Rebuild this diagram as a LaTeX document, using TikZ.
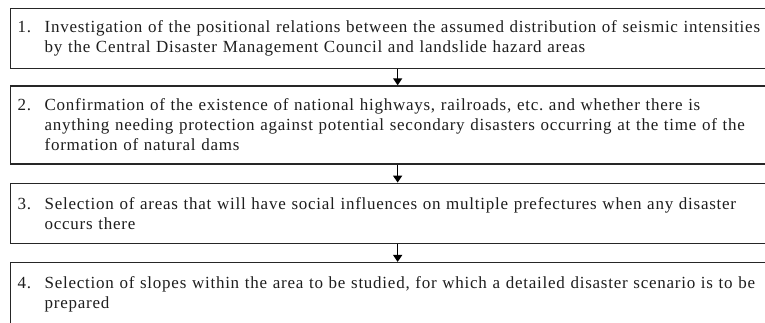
\documentclass[tikz,border=0pt]{standalone}
\usepackage{fontspec}
\setmainfont{Liberation Serif}[LetterSpace=4.4]
\usepackage{tikz}
\usetikzlibrary{arrows.meta,positioning}
\definecolor{boxline}{HTML}{262626}
\definecolor{boxtext}{HTML}{1E1E1E}
\newcommand{\stepno}[1]{\makebox[27pt][l]{#1}}
\newcommand{\stepin}{\hspace*{27pt}}

\begin{document}
\begin{tikzpicture}[
  x=1pt, y=-1pt,
  stepbox/.style = {draw=boxline, line width=1.3pt, fill=white,
                    text width=760pt, inner xsep=7pt, inner ysep=0pt,
                    align=left, text=boxtext,
                    font=\fontsize{17}{20}\selectfont},
  arr/.style     = {-{Triangle[length=7pt,width=9pt]},
                    line width=1.4pt, draw=black},
]
\useasboundingbox (0,0) rectangle (765,322);
\node[stepbox, minimum height=60pt, anchor=north west] (inv) at (10,8)
    {\stepno{1.}Investigation of the positional relations between the assumed distribution of seismic intensities\\
     \stepin by the Central Disaster Management Council and landslide hazard areas};
\node[stepbox, minimum height=78pt, below=16pt of inv] (conf)
    {\stepno{2.}Confirmation of the existence of national highways, railroads, etc.\ and whether there is\\
     \stepin anything needing protection against potential secondary disasters occurring at the time of the\\
     \stepin formation of natural dams};
\node[stepbox, minimum height=60pt, below=18pt of conf] (sel)
    {\stepno{3.}Selection of areas that will have social influences on multiple prefectures when any disaster\\
     \stepin occurs there};
\node[stepbox, minimum height=80pt, below=18pt of sel] (slope)
    {\stepno{4.}Selection of slopes within the area to be studied, for which a detailed disaster scenario is to be\\
     \stepin prepared\\ \mbox{}};
\draw[arr] (inv.south)  -- (conf.north);
\draw[arr] (conf.south) -- (sel.north);
\draw[arr] (sel.south)  -- (slope.north);
\end{tikzpicture}
\end{document}
